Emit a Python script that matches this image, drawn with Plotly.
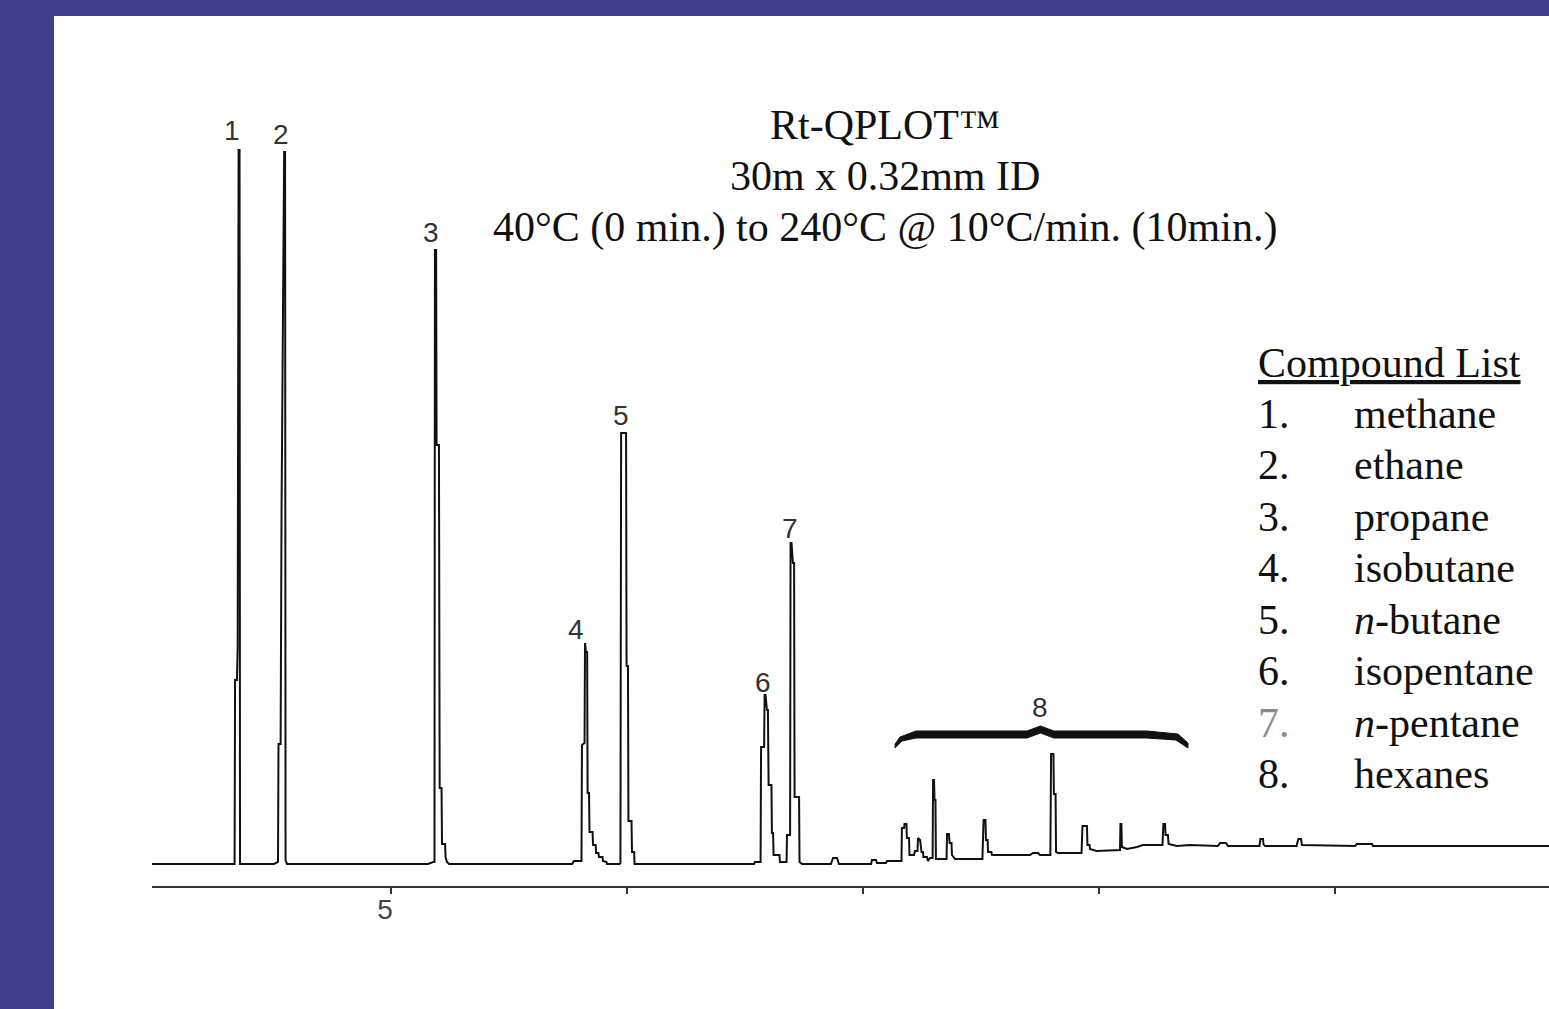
import plotly.graph_objects as go

# ---------------- data ----------------
time_min = [
    3.987,
    4.337, 4.339, 4.347, 4.350, 4.354, 4.358, 4.360,
    4.504, 4.517, 4.521, 4.523, 4.532, 4.536, 4.542, 4.547, 4.551, 4.553, 4.559,
    5.157, 5.178, 5.184, 5.186, 5.191, 5.193, 5.203, 5.206, 5.214, 5.216, 5.229, 5.231, 5.237, 5.246,
    5.767, 5.775, 5.807, 5.809, 5.820, 5.822, 5.826, 5.831, 5.833, 5.839, 5.841, 5.854, 5.856, 5.867,
    5.869, 5.879, 5.881, 5.896, 5.898, 5.913, 5.915,
    5.968, 5.972, 5.975, 5.996, 5.998, 6.004, 6.006, 6.019, 6.021, 6.030, 6.032,
    6.538, 6.542, 6.566, 6.568, 6.581, 6.583, 6.587, 6.593, 6.597, 6.600, 6.612, 6.614, 6.619, 6.621,
    6.646, 6.648, 6.676, 6.678, 6.691, 6.693, 6.697, 6.703, 6.708, 6.710, 6.729, 6.731, 6.742,
    6.864, 6.873, 6.890, 6.898,
    7.034, 7.038, 7.055, 7.059, 7.097, 7.102, 7.163,
    7.165, 7.174, 7.176, 7.184, 7.186, 7.195, 7.197, 7.216, 7.220, 7.231, 7.233, 7.242, 7.248, 7.254,
    7.256, 7.271, 7.275, 7.284, 7.295, 7.297, 7.301, 7.303, 7.307, 7.309, 7.354, 7.356, 7.364, 7.367,
    7.375, 7.377, 7.390, 7.506, 7.511, 7.519, 7.521, 7.528, 7.530, 7.544, 7.547, 7.708, 7.720, 7.742,
    7.750, 7.794, 7.797, 7.807, 7.809, 7.816, 7.818, 7.826, 7.926, 7.930, 7.949, 7.951, 7.960, 7.962,
    7.989, 8.089, 8.091, 8.095, 8.097, 8.119, 8.161, 8.186, 8.269, 8.273, 8.280, 8.282, 8.292, 8.295,
    8.331, 8.386, 8.504, 8.513, 8.538, 8.547, 8.680, 8.684, 8.695, 8.697, 8.703, 8.837, 8.845, 8.856,
    8.860, 9.085, 9.093, 9.157, 9.161, 9.907,
]
signal = [
    0,
    0, 184, 184, 216, 714, 714, 0,
    0, 2, 2, 120, 120, 354, 592, 712, 712, 4, 0,
    0, 2, 2, 614, 614, 419, 419, 76, 76, 20, 20, 7, 2, 0,
    0, 3, 3, 119, 121, 221, 212, 212, 71, 71, 32, 32, 19, 19,
    11, 11, 7, 7, 3, 2, 0,
    0, 1, 431, 431, 198, 198, 43, 43, 12, 12, 0,
    0, 2, 2, 117, 117, 169, 169, 154, 154, 79, 79, 31, 31, 9,
    9, 2, 2, 29, 29, 321, 321, 301, 301, 67, 67, 2, 0,
    0, 6, 6, 0,
    0, 4, 4, 1, 1, 3, 3,
    36, 36, 40, 40, 26, 26, 9, 9, 13, 13, 26, 24, 12, 12,
    7, 7, 3, 6, 6, 84, 84, 64, 64, 5, 5, 30, 30, 21,
    21, 9, 5, 5, 44, 44, 24, 24, 12, 12, 9, 9, 11, 11,
    9, 9, 110, 110, 70, 70, 12, 11, 11, 38, 38, 19, 19, 15,
    13, 14, 40, 40, 17, 15, 17, 19, 19, 40, 40, 29, 29, 20,
    18, 19, 18, 21, 21, 18, 18, 25, 25, 20, 18, 18, 25, 25,
    19, 18, 20, 20, 18, 18,
]

peak_ids = ["1", "2", "3", "4", "5", "6", "7", "8"]
label_time = [4.326, 4.534, 5.169, 5.784, 5.975, 6.576, 6.691, 7.750]
label_signal = [734, 730, 632, 235, 449, 182, 336, 157]

# brace over the hexane region (time, signal) - outline
brace_time = [7.136, 7.157, 7.225, 7.695, 7.752, 7.809, 8.203, 8.335, 8.377,
              8.377, 8.326, 8.203, 7.809, 7.752, 7.695, 7.225, 7.165, 7.136]
brace_signal = [120, 127, 133, 133, 138, 133, 133, 130, 121,
                116, 124, 126, 126, 131, 126, 126, 123, 116]

tick_vals = [5, 6, 7, 8, 9]
tick_text = ["5", "", "", "", ""]

title_lines = ["Rt-QPLOT™", "30m x 0.32mm ID",
               "40°C (0 min.) to 240°C @ 10°C/min. (10min.)"]
compound_header = "Compound List"
compound_nums = ["1.", "2.", "3.", "4.", "5.", "6.", "7.", "8."]
compound_names = ["methane", "ethane", "propane", "isobutane", "<i>n</i>-butane",
                  "isopentane", "<i>n</i>-pentane", "hexanes"]

# ---------------- layout geometry ----------------
W, H = 1549, 1009
PL, PR, PT, PB = 152, 1549, 16, 886
BORDER = "#3F3E8A"
SERIF = "Liberation Serif, Times New Roman, serif"
NARROW = "Liberation Sans Narrow, Arial Narrow, Liberation Sans, sans-serif"
TSIZE = 42


def pxx(px):
    return (px - PL) / (PR - PL)


def pxy(py):
    return (PB - py) / (PB - PT)


fig = go.Figure()
fig.add_trace(go.Scatter(x=time_min, y=signal, mode="lines",
                         line=dict(color="#111111", width=2),
                         hoverinfo="skip", showlegend=False))

path = "M " + " L ".join(f"{t},{s}" for t, s in zip(brace_time, brace_signal)) + " Z"

shapes = [
    # white page on the blue frame
    dict(type="rect", xref="paper", yref="paper", layer="below",
         x0=pxx(54), x1=1.0, y0=pxy(H), y1=1.0,
         fillcolor="white", line=dict(width=0)),
    dict(type="path", xref="x", yref="y", path=path,
         fillcolor="#111111", line=dict(color="#111111", width=1)),
]

annotations = []
for pid, t, s in zip(peak_ids, label_time, label_signal):
    annotations.append(dict(x=t, y=s, xref="x", yref="y", text=pid, showarrow=False,
                            xanchor="center", yanchor="middle",
                            font=dict(family=NARROW, size=28, color="#333333")))

off = 0.3375 * TSIZE
for i, line in enumerate(title_lines):
    base = 139 + 51.5 * i
    annotations.append(dict(x=pxx(885), y=pxy(base - off), xref="paper", yref="paper",
                            text=line, showarrow=False, xanchor="center", yanchor="middle",
                            font=dict(family=SERIF, size=TSIZE, color="#111111")))

row0 = 376.7
step = 51.45
annotations.append(dict(x=pxx(1256), y=pxy(row0 - off), xref="paper", yref="paper",
                        text=f"<u>{compound_header}</u>", showarrow=False,
                        xanchor="left", yanchor="middle",
                        font=dict(family=SERIF, size=TSIZE, color="#111111")))
for i, (n, name) in enumerate(zip(compound_nums, compound_names)):
    base = row0 + step * (i + 1)
    annotations.append(dict(x=pxx(1256), y=pxy(base - off), xref="paper", yref="paper",
                            text=n, showarrow=False, xanchor="left", yanchor="middle",
                            font=dict(family=SERIF, size=TSIZE,
                                      color="#8a8a8a" if n == "7." else "#111111")))
    annotations.append(dict(x=pxx(1352), y=pxy(base - off), xref="paper", yref="paper",
                            text=name, showarrow=False, xanchor="left", yanchor="middle",
                            font=dict(family=SERIF, size=TSIZE, color="#111111")))

fig.update_layout(
    width=W, height=H, autosize=False,
    margin=dict(l=PL, r=W - PR, t=PT, b=H - PB, pad=0),
    paper_bgcolor=BORDER, plot_bgcolor="white",
    showlegend=False, hovermode=False,
    shapes=shapes, annotations=annotations,
    xaxis=dict(range=[3.987, 9.907], showgrid=False, zeroline=False,
               showline=True, linecolor="#333333", linewidth=2,
               ticks="outside", ticklen=6, tickwidth=2, tickcolor="#333333",
               tickvals=tick_vals, ticktext=tick_text, ticklabelshift=-6,
               ticklabelstandoff=-9,
               tickfont=dict(family=NARROW, size=28, color="#444444")),
    yaxis=dict(range=[-22, 848], visible=False, showgrid=False, zeroline=False),
)

fig.write_html("out.html")
